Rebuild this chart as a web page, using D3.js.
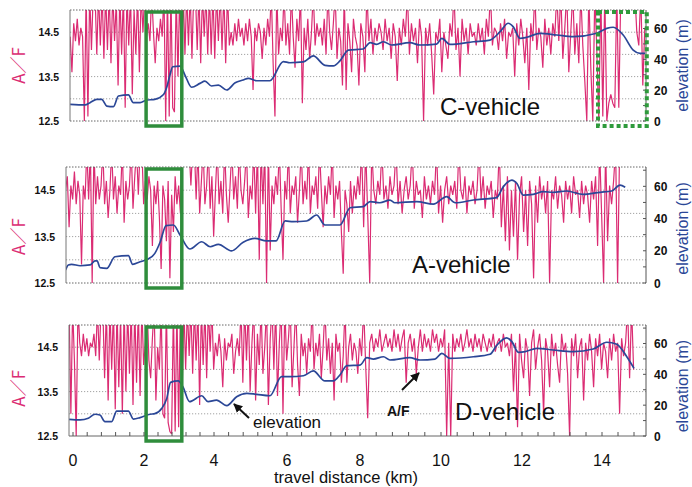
<!DOCTYPE html>
<html><head><meta charset="utf-8">
<script src="https://cdn.jsdelivr.net/npm/d3@7"></script>
<style>body{margin:0;background:#fff}svg{display:block}text{font-family:"Liberation Sans",Arial,sans-serif}</style>
</head><body><svg id="c" width="692" height="487"></svg>
<script>
// ---------- data ----------
const xTicks=[0,2,4,6,8,10,12,14];
const afTickLabels=[12.5,13.5,14.5];
const afGrid=[13,13.5,14,14.5];
const elevTicks=[0,20,40,60];
const vehicles=["C-vehicle","A-vehicle","D-vehicle"];
const afStep=0.05;
const afStartC=-0.08, afStartA=-0.21, afStartD=-0.11;
const afC=[14.4,13.6,14.7,14.3,14.8,14.2,14.6,14.4,12.5,15.4,12.6,15.4,14.1,15.4,15.4,14.0,15.4,14.2,15.4,13.9,
15.4,14.1,15.4,13.8,15.4,14.3,15.2,13.3,15.4,14.0,15.4,12.8,15.4,14.2,15.4,13.1,15.0,14.0,15.4,13.6,
15.4,14.5,15.4,14.4,14.7,14.3,15.4,14.5,13.8,14.6,14.3,14.8,14.4,15.4,12.5,15.4,12.6,15.4,12.8,12.7,
15.4,13.5,15.4,13.6,15.4,14.0,15.4,14.2,15.4,13.9,15.4,15.4,14.1,15.4,13.8,15.4,14.4,15.4,14.0,15.4,
14.0,15.4,13.9,15.4,14.3,15.4,14.1,15.4,13.8,15.4,14.2,14.5,14.2,14.7,14.3,14.8,14.4,14.6,14.2,14.7,
14.3,14.8,14.4,13.2,14.6,14.3,14.7,14.5,13.9,14.6,14.2,14.8,14.4,15.4,13.8,12.6,15.4,14.0,14.6,14.3,
15.4,14.2,14.7,14.0,15.4,14.4,13.7,14.8,14.3,15.4,12.9,14.6,14.1,14.8,13.9,14.5,15.4,14.2,14.7,14.4,
14.6,14.2,14.8,14.0,15.4,14.5,14.1,14.7,15.4,13.9,14.6,14.3,13.3,15.4,13.2,14.7,14.3,13.6,14.8,14.4,
14.2,13.3,14.7,14.4,13.6,15.4,14.3,14.8,14.0,14.6,14.3,14.7,14.5,14.1,14.8,14.3,14.6,13.9,14.7,14.4,
13.4,14.6,14.2,14.8,14.4,15.4,14.0,14.7,14.3,14.6,13.8,14.8,14.4,12.5,14.6,14.2,14.7,14.0,13.1,14.5,
14.3,14.8,13.6,14.5,14.2,13.9,14.7,14.4,15.4,14.1,14.6,13.5,14.8,14.3,14.6,14.0,14.7,14.4,14.5,14.2,
14.7,14.3,14.6,14.0,14.8,14.4,15.4,14.2,14.6,14.5,14.1,14.7,14.3,14.8,13.9,14.5,14.4,14.6,13.5,14.7,
14.2,14.8,14.4,13.8,14.6,13.2,14.7,14.3,15.4,14.1,14.6,14.4,13.7,14.8,14.2,14.6,14.0,14.7,14.4,15.4,
14.3,15.4,13.9,14.6,15.4,13.6,14.5,15.4,14.0,14.7,13.8,15.4,14.2,13.4,12.5,15.4,13.7,12.5,15.4,14.1,
12.5,15.4,12.6,15.4,12.5,12.9,13.1,12.9,12.8,15.4,12.8,15.4,15.4,15.4,15.4,15.4,15.4,15.4,15.4,14.5,14.2,15.4,13.3,14.6];
const afA=[14.5,14.8,13.7,14.6,14.3,14.9,14.2,14.7,14.4,12.9,14.6,14.3,15.4,14.3,15.4,12.5,15.4,14.2,14.8,14.3,
14.6,15.4,14.2,14.7,13.9,14.5,15.4,14.3,14.8,14.0,14.6,14.4,15.4,13.8,14.7,14.3,14.6,15.4,14.1,14.8,
15.4,14.4,15.4,15.4,14.2,14.7,14.3,14.8,14.5,13.3,14.6,14.2,14.7,13.9,12.8,14.6,14.3,13.4,14.7,12.6,
14.4,13.6,14.8,14.2,14.6,14.0,15.4,15.4,15.4,15.4,15.4,14.6,15.4,15.4,14.3,15.4,14.0,14.7,15.4,14.2,
14.6,15.4,14.1,14.8,13.5,14.5,15.4,14.2,14.7,14.0,15.4,14.4,13.8,14.6,15.4,14.3,14.8,14.1,15.4,14.5,
14.2,14.7,15.4,13.9,14.6,14.3,15.4,14.0,15.4,13.0,15.4,14.2,15.4,12.5,15.4,13.2,14.6,14.2,14.8,14.4,
15.4,14.1,13.0,14.7,14.3,15.4,14.0,14.6,14.4,14.8,13.8,14.5,15.4,14.2,14.7,14.3,15.4,14.0,14.6,14.4,
14.8,14.1,15.4,14.5,13.7,14.6,14.2,14.8,14.4,15.4,13.9,14.6,14.3,14.7,13.6,12.7,14.5,14.2,13.6,14.7,
14.0,14.6,14.3,14.8,14.4,15.4,13.7,15.4,14.0,12.5,15.4,14.5,14.2,14.7,14.4,15.4,14.3,14.6,14.1,14.8,
14.4,14.6,15.4,14.2,14.7,14.0,14.5,14.8,14.3,14.6,15.4,14.1,14.7,14.4,14.5,13.9,14.8,14.3,14.6,14.2,
14.7,14.4,15.4,14.0,14.6,13.8,14.5,14.8,14.2,14.6,14.4,14.7,14.1,15.4,14.5,14.3,14.8,14.0,14.6,14.4,
14.7,14.2,14.5,15.4,14.3,14.8,14.1,14.6,14.4,14.7,13.9,14.5,14.3,15.4,13.7,14.6,13.4,14.8,13.2,14.5,
13.5,14.7,13.0,14.4,14.8,13.6,14.5,13.3,14.7,14.2,12.6,14.6,13.8,14.8,14.3,14.6,14.0,14.7,12.5,14.5,
14.3,14.8,14.1,14.6,14.4,13.8,14.7,14.3,14.6,14.0,14.8,14.4,14.5,13.9,14.7,14.2,14.6,14.4,13.8,14.7,
14.3,14.8,13.3,15.4,14.0,12.5,15.4,13.4,14.6,14.2,14.7,15.4,12.5,15.4];
const afD=[15.4,13.0,15.4,14.2,12.5,15.4,14.6,14.3,14.8,14.4,14.7,14.3,14.6,14.5,14.8,14.3,15.4,14.2,15.4,15.4,
13.8,15.4,13.3,15.4,14.0,15.4,13.1,15.4,13.6,15.2,13.0,15.4,13.5,15.4,13.9,15.4,13.2,15.4,13.7,15.4,
13.4,15.4,14.1,14.6,15.4,14.2,13.8,14.7,15.4,13.3,14.5,14.0,15.4,13.0,12.9,15.4,12.8,12.6,12.55,15.4,
12.6,15.4,12.7,15.4,13.5,15.4,14.0,15.4,14.3,15.4,13.9,15.4,14.2,15.4,13.2,15.4,14.1,15.4,13.8,15.4,
14.4,15.4,14.0,14.6,14.3,14.8,14.4,13.6,14.7,14.2,14.6,14.5,14.8,13.9,14.4,14.7,14.3,15.4,13.7,15.4,
14.2,15.4,13.5,14.6,15.4,13.3,14.8,14.1,15.4,13.9,14.5,15.4,13.2,14.7,15.4,14.0,15.4,13.4,14.6,15.4,
13.0,15.4,14.2,14.7,15.4,13.6,14.5,15.4,14.1,13.4,14.8,14.3,14.6,13.9,14.7,14.4,15.4,14.0,14.6,14.3,
14.8,13.8,14.5,15.4,14.2,14.7,13.9,14.6,13.3,14.8,14.4,14.6,13.7,14.3,15.4,13.7,14.5,14.8,14.2,14.6,
14.4,13.9,14.7,14.3,15.4,14.1,12.9,14.6,14.8,14.4,14.7,14.5,14.9,14.4,14.6,14.8,14.5,14.7,14.4,14.9,
14.5,14.8,14.4,14.7,14.9,13.7,14.6,14.8,14.4,14.7,13.9,14.5,14.9,14.4,14.8,14.5,14.7,14.4,14.9,14.6,
14.8,14.4,14.7,14.5,14.9,12.5,14.6,12.5,14.8,14.4,14.7,14.5,14.8,14.4,14.6,14.9,14.5,14.7,14.4,14.8,
14.5,14.7,14.4,14.8,14.6,14.4,14.7,14.5,14.8,14.4,14.6,14.7,14.4,14.8,14.5,14.6,14.3,14.8,13.5,14.6,
12.7,14.8,14.2,13.8,14.7,14.4,13.4,14.6,14.9,14.0,14.5,14.8,14.2,13.0,14.7,14.4,13.6,14.8,14.3,14.6,
14.1,13.7,14.8,14.4,14.6,13.9,12.5,14.7,14.3,14.8,13.8,14.5,14.7,13.3,14.6,14.2,14.8,14.4,13.6,14.7,
14.3,14.8,14.0,14.6,14.4,13.8,14.7,14.2,14.8,14.4,14.6,13.0,14.7,14.3,14.6,15.4,13.8,15.4,14.0];
const elevKmC=[-0.08,0.34,0.48,0.67,0.81,0.95,1.14,1.28,1.56,1.70,1.89,2.08,2.31,2.55,2.65,2.74,2.82,3.03,3.17,3.36,3.60,3.74,3.93,4.12,4.35,4.58,4.80,4.94,5.17,5.53,5.90,6.08,6.45,6.72,7.04,7.27,7.45,7.68,8.08,8.25,8.41,8.58,8.78,9.23,9.48,9.89,10.02,10.22,10.80,11.21,11.46,11.66,11.78,11.95,12.12,12.45,12.87,13.28,13.87,14.12,14.28,14.53,14.78,14.95,15.08];
const elevC=[10.8,10.4,11.9,14,14,9.7,9.3,16.2,16.9,11.9,11.9,13.6,14,17,21.9,29.8,35.2,35.6,29.8,21.9,24.4,25.9,22.7,23.3,20.1,24.8,26.6,27.7,26.1,26.1,38.5,37.8,38.3,42.2,36.1,35.7,39,46,46.7,50.8,49.7,51.4,49.3,50.8,49.3,49.9,53.6,49.7,51.4,52.5,57.9,63.4,61.2,53.6,54.3,56.9,55.8,54.7,56.9,60.1,60.8,55.8,46,43.9,43.9];
const elevKmA=[-0.21,-0.13,-0.04,0.20,0.48,0.62,0.68,0.76,0.95,1.18,1.56,1.68,1.89,2.12,2.31,2.46,2.63,2.84,3.03,3.31,3.65,3.89,4.12,4.48,4.80,5.12,5.44,5.70,5.95,6.17,6.54,6.81,7.04,7.45,7.73,8.08,8.25,8.49,8.74,8.86,9.40,9.81,10.14,10.35,10.80,11.37,11.54,11.75,11.87,12.03,12.28,12.53,12.78,13.12,13.53,13.95,14.24,14.45,14.58];
const elevA=[8.1,11.2,11.6,10.7,11.2,13.7,13.7,9.5,9.1,16.3,17,11.6,13.2,14.9,18.4,25.3,35.6,36,29.8,21.1,25.6,22.5,24,19.9,25.3,27.7,26.1,26.1,38.5,38.1,38.5,42.2,36,36,46.7,47.4,50.5,49.8,51.5,49.8,50.5,49,53.6,49.8,51.5,53,59.8,63.9,61.9,54.6,55,56.7,56.3,57.1,55,56.3,57.1,60.8,59.4];
const elevKmD=[-0.11,0.20,0.43,0.62,0.76,0.90,1.09,1.23,1.56,1.70,1.89,2.17,2.31,2.51,2.65,2.76,2.98,3.11,3.30,3.65,3.83,4.07,4.35,4.62,4.90,5.17,5.53,5.85,6.08,6.45,6.72,7.04,7.27,7.45,7.64,8.0,8.17,8.33,8.58,8.74,9.23,9.48,9.85,10.02,10.22,10.80,11.21,11.37,11.62,11.75,11.91,12.08,12.37,12.78,13.28,13.78,14.12,14.37,14.62,14.80];
const elevD=[10.8,10.4,11.5,14.1,13.6,9.3,9.3,16.2,16.2,11,11.9,14.1,14.5,18,24.4,34.8,35.7,32,22.3,26.1,22.3,23.3,19.7,25.5,27.7,27,26.1,38.5,38.5,39.1,42.2,35.7,35.7,39.6,45.6,46,50.8,49.9,51.4,49.3,50.8,49.3,49.9,53.6,50.4,51.4,53,58.6,63.7,61.2,54.3,54.7,56.9,55.8,54.7,56.4,60.8,59.5,51.4,43.9];
const boxKm=[2.06,3.08];
const dottedBoxKm=[13.9,15.12];

// ---------- layout ----------
const xTickPx=[73,144,214,287,360,441,522,602];
const right=646;
const panels=[
 {left:70,top:10,bottom:121,af:afC,start:afStartC,ek:elevKmC,ev:elevC,lx:440,ly:115,afy:0.5,ely:0.5},
 {left:66,top:167,bottom:283,af:afA,start:afStartA,ek:elevKmA,ev:elevA,lx:412,ly:273,afy:0.6,ely:0.53},
 {left:69,top:325,bottom:436,af:afD,start:afStartD,ek:elevKmD,ev:elevD,lx:455,ly:420,afy:0.57,ely:0.55}
];
const PINK="#db2c73", BLUE="#2b4797", GREEN="#2f8d3c", GREEN2="#2f9a3c";
const svg=d3.select("#c");
const x=d3.scaleLinear().domain(xTicks).range(xTickPx);
const defs=svg.append("defs");
defs.append("marker").attr("id","ah").attr("viewBox","0 0 10 10").attr("refX",9).attr("refY",5)
 .attr("markerWidth",4.5).attr("markerHeight",4.5).attr("orient","auto")
 .append("path").attr("d","M0,0L10,5L0,10z").attr("fill","#111");

panels.forEach((p,k)=>{
  const yAF=d3.scaleLinear().domain([12.5,15]).range([p.bottom,p.top]);
  const yEl=d3.scaleLinear().domain([0,72]).range([p.bottom,p.top]);
  const g=svg.append("g");
  defs.append("clipPath").attr("id","cp"+k).append("rect")
   .attr("x",p.left).attr("y",p.top).attr("width",right-p.left).attr("height",p.bottom-p.top);
  // grid
  g.selectAll(".gr").data(afGrid).join("line").attr("x1",p.left).attr("x2",right)
   .attr("y1",d=>yAF(d)).attr("y2",d=>yAF(d)).attr("stroke","#8a8a8a").attr("stroke-width",0.8).attr("stroke-dasharray","1.2 1.8");
  // A/F trace
  const afLine=d3.line().x((d,i)=>x(p.start+i*afStep)).y(d=>yAF(d));
  g.append("path").attr("clip-path","url(#cp"+k+")").attr("d",afLine(p.af))
   .attr("fill","none").attr("stroke",PINK).attr("stroke-width",1.2).attr("stroke-linejoin","bevel");
  // elevation
  const elLine=d3.line().x((d,i)=>x(p.ek[i])).y(d=>yEl(d)).curve(d3.curveMonotoneX);
  g.append("path").attr("clip-path","url(#cp"+k+")").attr("d",elLine(p.ev))
   .attr("fill","none").attr("stroke",BLUE).attr("stroke-width",1.7);
  // frame
  g.append("line").attr("x1",p.left).attr("x2",right).attr("y1",p.top).attr("y2",p.top)
   .attr("stroke","#555").attr("stroke-width",0.9).attr("stroke-dasharray","1.5 1.5");
  g.append("line").attr("x1",p.left).attr("x2",right).attr("y1",p.bottom).attr("y2",p.bottom)
   .attr("stroke","#555").attr("stroke-width",0.9).attr("stroke-dasharray",k===2?null:"1.5 1.5");
  g.append("line").attr("x1",p.left).attr("x2",p.left).attr("y1",p.top).attr("y2",p.bottom).attr("stroke","#777").attr("stroke-width",1);
  g.append("line").attr("x1",right).attr("x2",right).attr("y1",p.top).attr("y2",p.bottom).attr("stroke","#555").attr("stroke-width",1);
  // right ticks
  g.selectAll(".rt").data(d3.range(0,71,10)).join("line").attr("x1",right-3).attr("x2",right)
   .attr("y1",d=>yEl(d)).attr("y2",d=>yEl(d)).attr("stroke","#555");
  g.selectAll(".rl").data(elevTicks).join("text").attr("x",right+8).attr("y",d=>yEl(d)+4.5)
   .attr("font-size",12).attr("font-weight","bold").attr("fill","#111").text(d=>d);
  g.selectAll(".ll").data(afTickLabels).join("text").attr("x",p.left-11).attr("y",d=>yAF(d)+4)
   .attr("text-anchor","end").attr("font-size",10.5).attr("font-weight","bold").attr("fill","#111").text(d=>d.toFixed(1));
  // axis titles
  const afy=p.top+(p.bottom-p.top)*p.afy, ely=p.top+(p.bottom-p.top)*p.ely;
  g.append("text").attr("transform",`translate(25,${afy}) rotate(-90)`).attr("text-anchor","middle")
   .attr("font-size",17).attr("fill",PINK).style("font-family","'Noto Sans CJK JP','Liberation Sans',sans-serif").text("A／F");
  g.append("text").attr("transform",`translate(688,${ely}) rotate(-90)`).attr("text-anchor","middle")
   .attr("font-size",16).attr("fill",BLUE).text("elevation  (m)");
  // vehicle label
  g.append("text").attr("x",p.lx).attr("y",p.ly).attr("font-size",24).attr("fill","#111").text(vehicles[k]);
  // green box
  g.append("rect").attr("x",x(boxKm[0])).attr("y",p.top+2).attr("width",x(boxKm[1])-x(boxKm[0]))
   .attr("height",p.bottom+5-(p.top+2)).attr("fill","none").attr("stroke",GREEN).attr("stroke-width",3.5);
  if(k===0){
    g.append("rect").attr("x",x(dottedBoxKm[0])).attr("y",p.top+2).attr("width",x(dottedBoxKm[1])-x(dottedBoxKm[0]))
     .attr("height",p.bottom+5-(p.top+2)).attr("fill","none").attr("stroke",GREEN2).attr("stroke-width",4).attr("stroke-dasharray","4 3");
  }
  if(k===2){
    g.selectAll(".bt").data(d3.range(0,15.0,0.4)).join("line").attr("x1",d=>x(d)).attr("x2",d=>x(d))
     .attr("y1",p.bottom).attr("y2",p.bottom-4).attr("stroke","#555");
    g.selectAll(".bl").data(xTicks).join("text").attr("x",d=>x(d)).attr("y",466).attr("text-anchor","middle")
     .attr("font-size",16).attr("fill","#111").text(d=>d);
    svg.append("text").attr("x",346).attr("y",483).attr("text-anchor","middle").attr("font-size",16.5).attr("fill","#111").text("travel distance (km)");
    // annotations
    svg.append("text").attr("x",253).attr("y",428).attr("font-size",17).attr("fill","#111").text("elevation");
    svg.append("line").attr("x1",249).attr("y1",418).attr("x2",234).attr("y2",404).attr("stroke","#111").attr("stroke-width",2).attr("marker-end","url(#ah)");
    svg.append("text").attr("x",387).attr("y",416).attr("font-size",14).attr("font-weight","bold").attr("fill","#111").text("A/F");
    svg.append("line").attr("x1",402).attr("y1",390).attr("x2",419).attr("y2",373).attr("stroke","#111").attr("stroke-width",2).attr("marker-end","url(#ah)");
  }
});
</script></body></html>
